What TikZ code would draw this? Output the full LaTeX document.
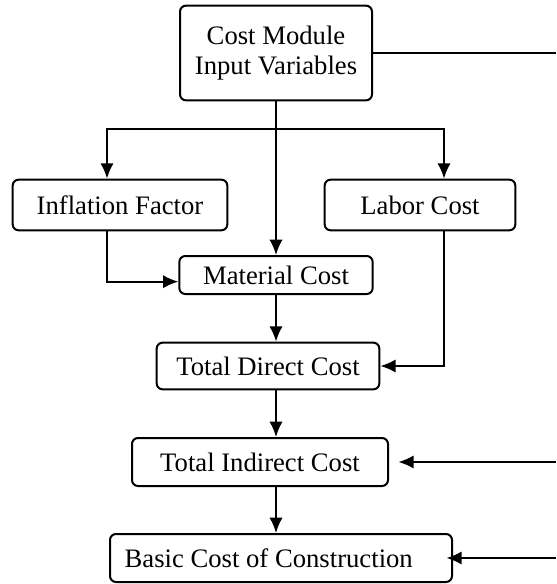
\documentclass[tikz,border=0pt]{standalone}
\usepackage{fontspec}
\setmainfont{Liberation Serif}
\usetikzlibrary{arrows.meta}
\usetikzlibrary{calc}
\begin{document}
\begin{tikzpicture}[x=0.75pt, y=-0.75pt, line width=1.5pt,
    box/.style={draw, rounded corners=4.5pt, align=center, inner sep=2pt,
        font=\fontsize{20}{23}\selectfont},
    arr/.style={-{Latex[length=11.5pt, width=10pt]}}]
    % cost module flow chart, coordinates in pixels
    \useasboundingbox (0,0) rectangle (556,584);
    \node[box, minimum width=144pt, minimum height=71pt] (inp) at (276,53) {Cost Module\\Input Variables};
    \node[box, minimum width=161pt, minimum height=38pt] (infl) at (120,205) {Inflation Factor};
    \node[box, minimum width=143pt, minimum height=38pt] (labor) at (420,205) {Labor Cost};
    \node[box, minimum width=145pt, minimum height=28.5pt] (mat) at (276,275) {Material Cost};
    \node[box, minimum width=167pt, minimum height=35pt] (direct) at (268,366) {Total Direct Cost};
    \node[box, minimum width=192pt, minimum height=36pt] (indirect) at (260,462) {Total Indirect Cost};
    \node[box, minimum height=36pt, inner xsep=11pt, text width=234.5pt, align=flush left] (basic) at (281,558) {Basic Cost of Construction};

    \coordinate (br) at (276,129);
    \coordinate (rt) at (556,53);
    \coordinate (ri) at (556,462);
    \coordinate (rb) at (556,558);

    \draw[arr] (inp.south) -- (mat.north);
    \draw[arr] (br) -| ([xshift=-9.75pt]infl.north);
    \draw[arr] (br) -| ([xshift=18pt]labor.north);
    \draw[arr] ([xshift=-9.75pt]infl.south) |- ([yshift=-5pt]mat.west);
    \draw[arr] ([xshift=18pt]labor.south) |- (direct.east);
    \draw[arr] (mat.south) -- (mat.south |- direct.north);
    \draw[arr] (direct.south -| mat.south) -- (indirect.north -| mat.south);
    \draw[arr] (indirect.south -| mat.south) -- (basic.north -| mat.south);
    \draw (inp.east |- rt) -- (rt);
    \draw[arr] (ri) -- ([xshift=7pt]indirect.east);
    \draw[arr] (rb) -- ([xshift=-5pt]basic.east);
\end{tikzpicture}
\end{document}
